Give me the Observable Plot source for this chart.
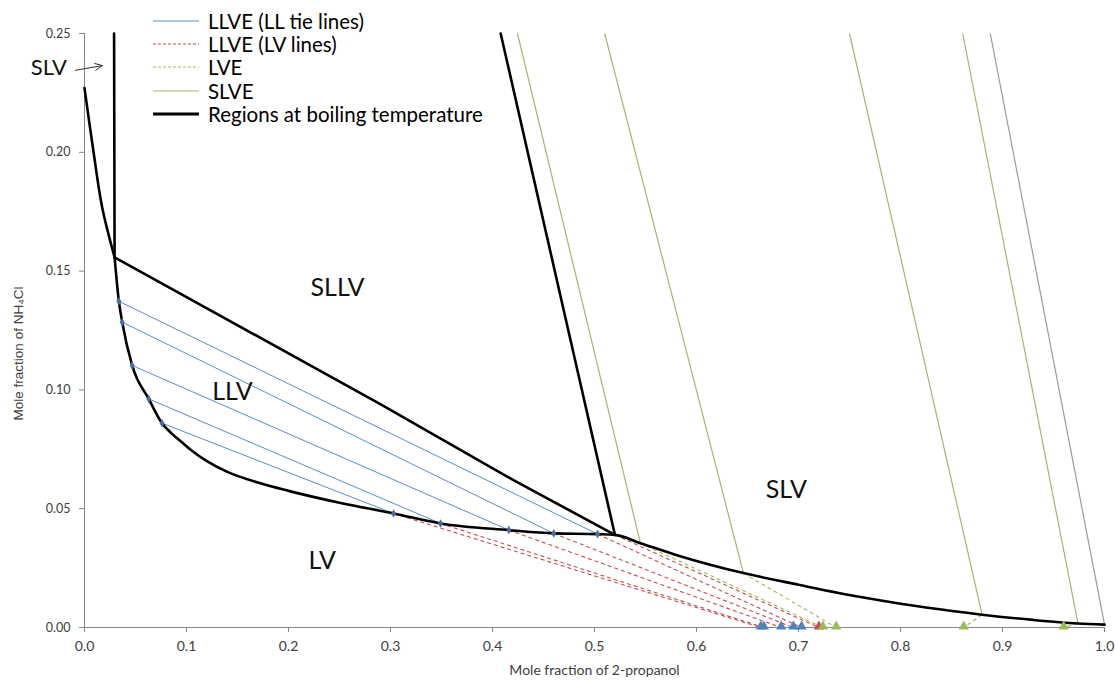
<!DOCTYPE html>
<html>
<head>
<meta charset="utf-8">
<script src="https://cdn.jsdelivr.net/npm/d3@7"></script>
<script src="https://cdn.jsdelivr.net/npm/@observablehq/plot@0.6"></script>
<style>
  html, body { margin: 0; padding: 0; background: #fff; }
  #wrap { position: relative; width: 1115px; height: 689px; }
  #legend { position: absolute; left: 152px; top: 9px; font-family: Lato, "Open Sans", sans-serif; font-size: 20.5px; color: #000; }
  #legend .row { display: flex; align-items: center; height: 23.3px; }
  #legend svg { margin-right: 8px; }
</style>
</head>
<body>
<div id="wrap">
  <div id="chart"></div>
  <div id="legend"></div>
</div>
<script>
// ---- Data ----
const xTicks = [0, 0.1, 0.2, 0.3, 0.4, 0.5, 0.6, 0.7, 0.8, 0.9, 1.0];
const yTicks = [0, 0.05, 0.10, 0.15, 0.20, 0.25];

// Boiling-temperature boundary: upper (SLV) branch, x 0 -> junction
const boilUpX = [0, 0.0091, 0.0173, 0.0295];
const boilUpY = [0.227, 0.1994, 0.1769, 0.1558];
// Boiling-temperature boundary: lower (LV) branch, junction -> x = 1
const boilX = [0.0295, 0.0337, 0.037, 0.0467, 0.063, 0.076, 0.085, 0.094, 0.105, 0.12, 0.14, 0.17, 0.20, 0.25, 0.303, 0.349, 0.416, 0.46, 0.503, 0.52, 0.545, 0.584, 0.646, 0.70, 0.761, 0.80, 0.84, 0.88, 0.93, 0.974, 1.0];
const boilY = [0.1558, 0.1373, 0.1285, 0.1103, 0.0962, 0.086, 0.0818, 0.0785, 0.0745, 0.0700, 0.0655, 0.0610, 0.0575, 0.0525, 0.048, 0.0438, 0.041, 0.0396, 0.0393, 0.039, 0.0355, 0.0300, 0.0229, 0.0180, 0.0128, 0.0100, 0.0076, 0.0054, 0.0032, 0.0017, 0.0012];

// Other boiling-temperature region borders
const vertX = [0.029, 0.0295];
const vertY = [0.25, 0.1558];
const upperX = [0.0295, 0.29, 0.421, 0.52];
const upperY = [0.1558, 0.094, 0.0619, 0.039];
const sllvX = [0.408, 0.52];
const sllvY = [0.25, 0.039];

// LL tie lines (left end / right end)
const tieLeftX = [0.0337, 0.037, 0.0467, 0.063, 0.076];
const tieLeftY = [0.1373, 0.1285, 0.1103, 0.0962, 0.086];
const tieRightX = [0.503, 0.46, 0.416, 0.349, 0.303];
const tieRightY = [0.0393, 0.0396, 0.041, 0.0438, 0.048];

// LV lines (from right ends of tie lines / junction to x-axis)
const lvStartX = [0.503, 0.46, 0.416, 0.349, 0.303, 0.52];
const lvStartY = [0.0393, 0.0396, 0.041, 0.0438, 0.048, 0.039];
const lvEndX = [0.703, 0.695, 0.683, 0.666, 0.663, 0.720];
const lvTriColor = ["blue", "blue", "blue", "blue", "blue", "red"];

// LVE lines
const lveStartX = [0.545, 0.646, 0.880, 0.974];
const lveStartY = [0.0355, 0.0229, 0.0054, 0.0017];
const lveEndX = [0.724, 0.737, 0.862, 0.960];

// SLVE lines (top at y=0.25, bottom on boundary curve)
const slveTopX = [0.4245, 0.510, 0.750, 0.861];
const slveBotX = [0.545, 0.646, 0.880, 0.974];
const slveBotY = [0.0355, 0.0229, 0.0054, 0.0017];
const greyTopX = [0.888];
const greyBotX = [1.0];
const greyBotY = [0.0012];

// Region labels
const regionNames = ["SLLV", "LLV", "SLV", "LV", "SLV"];
const regionX = [0.248, 0.145, 0.688, 0.233, -0.035];
const regionY = [0.1427, 0.099, 0.058, 0.028, 0.2355];

// ---- Build tables ----
const boilUp = boilUpX.map((x, i) => ({x, y: boilUpY[i]}));
const boil = boilX.map((x, i) => ({x, y: boilY[i]}));
const vert = vertX.map((x, i) => ({x, y: vertY[i]}));
const upper = upperX.map((x, i) => ({x, y: upperY[i]}));
const sllv = sllvX.map((x, i) => ({x, y: sllvY[i]}));
const ties = tieLeftX.map((x, i) => ({x1: x, y1: tieLeftY[i], x2: tieRightX[i], y2: tieRightY[i]}));
const lv = lvStartX.map((x, i) => ({x1: x, y1: lvStartY[i], x2: lvEndX[i], y2: 0}));
const lve = lveStartX.map((x, i) => ({x1: x, y1: lveStartY[i], x2: lveEndX[i], y2: 0}));
const slve = slveTopX.map((x, i) => ({x1: x, y1: 0.25, x2: slveBotX[i], y2: slveBotY[i]}));
const grey = greyTopX.map((x, i) => ({x1: x, y1: 0.25, x2: greyBotX[i], y2: greyBotY[i]}));
const diamonds = [
  ...tieLeftX.map((x, i) => ({x, y: tieLeftY[i]})),
  ...tieRightX.map((x, i) => ({x, y: tieRightY[i]}))
];
const triColors = {blue: "#4f81bd", red: "#c0504d", green: "#9bbb59"};
const triangles = [
  ...lvEndX.map((x, i) => ({x, c: triColors[lvTriColor[i]]})),
  ...lveEndX.map(x => ({x, c: triColors.green}))
];
const labels = regionNames.map((t, i) => ({t, x: regionX[i], y: regionY[i]}));
const mainLabels = labels.slice(0, 4);
const slvLabel = labels.slice(4);

const C_BLUE = "#5b8cc4";
const C_RED = "#c0504d";
const C_LVE = "#9bbb59";
const C_SLVE = "#a9b46a";
const NARROW = "'Liberation Sans Narrow', 'Arial Narrow', Lato, sans-serif";

const chart = Plot.plot({
  width: 1115,
  height: 689,
  marginLeft: 84,
  marginRight: 11,
  marginTop: 33,
  marginBottom: 62,
  x: {domain: [0, 1]},
  y: {domain: [0, 0.25]},
  style: {fontFamily: "Lato, 'Open Sans', sans-serif", fontSize: "12px", color: "#404040", overflow: "visible"},
  marks: [
    Plot.axisX({ticks: xTicks, tickFormat: d3.format(".1f"), tickSize: 5, tickPadding: 9, label: null, stroke: "#868686", fontSize: 14, fontFamily: NARROW}),
    Plot.axisY({ticks: yTicks, tickFormat: d3.format(".2f"), tickSize: 5, tickPadding: 9, label: null, stroke: "#868686", fontSize: 12.5}),
    Plot.ruleY([0], {stroke: "#868686", strokeWidth: 1.2}),
    Plot.ruleX([0], {stroke: "#868686", strokeWidth: 1}),
    // SLVE lines
    Plot.link(slve, {x1: "x1", y1: "y1", x2: "x2", y2: "y2", stroke: C_SLVE, strokeWidth: 1.2}),
    Plot.link(grey, {x1: "x1", y1: "y1", x2: "x2", y2: "y2", stroke: "#9a9a9a", strokeWidth: 1.2}),
    // LL tie lines
    Plot.link(ties, {x1: "x1", y1: "y1", x2: "x2", y2: "y2", stroke: C_BLUE, strokeWidth: 1}),
    // LV dashed lines
    Plot.link(lv, {x1: "x1", y1: "y1", x2: "x2", y2: "y2", stroke: C_RED, strokeWidth: 1.1, strokeDasharray: "4,3"}),
    // LVE dashed lines
    Plot.link(lve, {x1: "x1", y1: "y1", x2: "x2", y2: "y2", stroke: C_LVE, strokeWidth: 1.1, strokeDasharray: "4,3"}),
    // Boiling regions (black)
    Plot.line(boilUp, {x: "x", y: "y", stroke: "#000", strokeWidth: 2.6, curve: "catmull-rom"}),
    Plot.line(boil, {x: "x", y: "y", stroke: "#000", strokeWidth: 2.6, curve: "monotone-x"}),
    Plot.line(vert, {x: "x", y: "y", stroke: "#000", strokeWidth: 2.6}),
    Plot.line(upper, {x: "x", y: "y", stroke: "#000", strokeWidth: 2.6}),
    Plot.line(sllv, {x: "x", y: "y", stroke: "#000", strokeWidth: 2.6}),
    // markers
    Plot.dot(diamonds, {x: "x", y: "y", symbol: "diamond", r: 2.6, fill: "#4a6d9e", stroke: "none"}),
    Plot.dot(triangles, {x: "x", y: () => 0, symbol: "triangle", r: 3.8, fill: "c", stroke: "none", dy: -1}),
    // region labels
    Plot.text(mainLabels, {x: "x", y: "y", text: "t", fontSize: 25, fill: "#111"}),
    Plot.text(slvLabel, {x: "x", y: "y", text: "t", fontSize: 22, fill: "#111", clip: false}),
    Plot.arrow([{x1: -0.009, y1: 0.2345, x2: 0.0175, y2: 0.2365}], {x1: "x1", y1: "y1", x2: "x2", y2: "y2", stroke: "#333", strokeWidth: 1, headLength: 12, headAngle: 50}),
    // axis titles
    Plot.text(["Mole fraction of 2-propanol"], {frameAnchor: "bottom", dy: 47, fontSize: 14, fill: "#404040", fontFamily: NARROW}),
    Plot.text(["Mole fraction of NH\u2084Cl"], {frameAnchor: "left", textAnchor: "middle", dx: -66, dy: 23, rotate: -90, fontSize: 13.5, fill: "#404040", fontFamily: "'Liberation Sans', Arial, sans-serif"})
  ]
});
document.getElementById("chart").appendChild(chart);

// ---- Legend ----
const legendItems = [
  {label: "LLVE (LL tie lines)", color: C_BLUE, dash: null, w: 1},
  {label: "LLVE (LV lines)", color: C_RED, dash: "3,2", w: 1},
  {label: "LVE", color: C_LVE, dash: "3,2", w: 1},
  {label: "SLVE", color: C_SLVE, dash: null, w: 1.2},
  {label: "Regions at boiling temperature", color: "#000", dash: null, w: 2.8}
];
const legend = document.getElementById("legend");
for (const it of legendItems) {
  const row = document.createElement("div");
  row.className = "row";
  row.innerHTML = `<svg width="48" height="10"><line x1="1" y1="5" x2="47" y2="5" stroke="${it.color}" stroke-width="${it.w}" ${it.dash ? `stroke-dasharray="${it.dash}"` : ""}/></svg><span>${it.label}</span>`;
  legend.appendChild(row);
}
</script>
</body>
</html>
